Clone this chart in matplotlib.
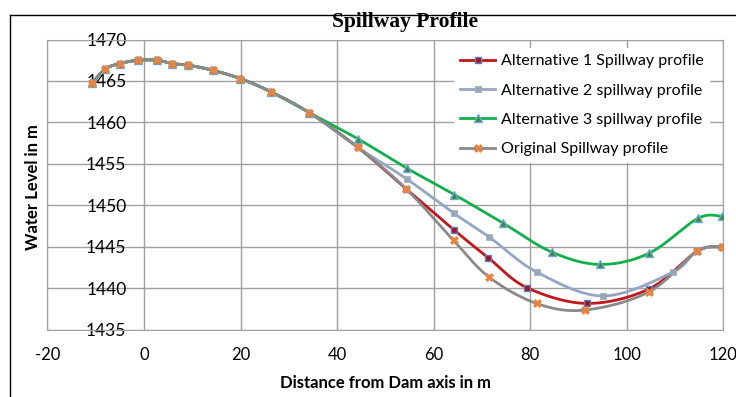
import numpy as np
import matplotlib
matplotlib.use("Agg")
import matplotlib.pyplot as plt
from matplotlib.lines import Line2D

# distance from dam axis (m) / water level (m)
alt1_x = [-10.8, -8.0, -5.0, -1.2, 2.8, 5.8, 9.2, 14.2, 19.9, 26.3, 34.2, 44.3,
          54.3, 64.1, 71.3, 79.3, 91.7, 104.6, 114.6, 119.7]
alt1_y = [1464.7, 1466.45, 1467.1, 1467.5, 1467.5, 1467.1, 1466.9, 1466.3, 1465.3, 1463.7, 1461.2, 1457.0,
          1452.0, 1447.1, 1443.7, 1440.1, 1438.2, 1439.95, 1444.5, 1445.0]

alt2_x = [-10.8, -8.0, -5.0, -1.2, 2.8, 5.8, 9.2, 14.2, 19.9, 26.3, 34.2, 44.3,
          54.4, 64.2, 71.5, 81.3, 95.1, 109.6, 114.6, 119.7]
alt2_y = [1464.7, 1466.45, 1467.1, 1467.5, 1467.5, 1467.1, 1466.9, 1466.3, 1465.3, 1463.7, 1461.2, 1457.0,
          1453.2, 1449.05, 1446.2, 1442.0, 1439.1, 1442.0, 1444.6, 1445.0]

alt3_x = [-10.8, -8.0, -5.0, -1.2, 2.8, 5.8, 9.2, 14.2, 19.9, 26.3, 34.2,
          44.4, 54.4, 64.3, 74.3, 84.4, 94.4, 104.6, 114.7, 119.6]
alt3_y = [1464.7, 1466.45, 1467.1, 1467.5, 1467.5, 1467.1, 1466.9, 1466.3, 1465.3, 1463.7, 1461.2,
          1458.0, 1454.5, 1451.3, 1447.9, 1444.4, 1442.9, 1444.25, 1448.45, 1448.7]

orig_x = [-10.8, -8.0, -5.0, -1.2, 2.8, 5.8, 9.2, 14.2, 19.9, 26.3, 34.2, 44.3,
          54.3, 64.1, 71.5, 81.3, 91.3, 104.6, 114.6, 119.7]
orig_y = [1464.7, 1466.45, 1467.1, 1467.5, 1467.5, 1467.1, 1466.9, 1466.3, 1465.3, 1463.7, 1461.2, 1457.0,
          1452.0, 1445.8, 1441.35, 1438.2, 1437.4, 1439.6, 1444.5, 1445.0]

labels = ["Alternative 1 Spillway profile", "Alternative 2 spillway profile",
          "Alternative 3 spillway profile", "Original Spillway profile"]


def smooth(x, y, n=24):
    # excel-like smoothed line (catmull-rom bezier)
    p = np.column_stack([x, y]).astype(float)
    p = np.vstack([p[0], p, p[-1]])
    out = []
    t = np.linspace(0, 1, n)[:, None]
    for i in range(1, len(p) - 2):
        p0, p1, p2, p3 = p[i - 1], p[i], p[i + 1], p[i + 2]
        c1 = p1 + (p2 - p0) / 6
        c2 = p2 - (p3 - p1) / 6
        seg = (1 - t)**3 * p1 + 3 * (1 - t)**2 * t * c1 + 3 * (1 - t) * t**2 * c2 + t**3 * p2
        out.append(seg if i == 1 else seg[1:])
    out = np.vstack(out)
    return out[:, 0], out[:, 1]


plt.rcParams['font.family'] = ['Lato', 'DejaVu Sans']
plt.rcParams['axes.unicode_minus'] = False
fig = plt.figure(figsize=(7.36, 3.97), dpi=100)
ax = fig.add_axes([0.0643, 0.1688, 0.9187, 0.7317])

series = [
    (alt1_x, alt1_y, dict(color='#C0171C'), dict(marker='s', ms=5, mfc='#B0101A', mec='#5B7FC0', mew=1)),
    (alt2_x, alt2_y, dict(color='#94A6C4'), dict(marker='s', ms=4, mfc='#9AA7BA', mec='#9AA7BA', mew=0.5)),
    (alt3_x, alt3_y, dict(color='#11B04A'), dict(marker='^', ms=6, mfc='#3F8A3A', mec='#6FA8DC', mew=1)),
    (orig_x, orig_y, dict(color='#8A8A8A'), dict(marker='X', ms=6, mfc='#E8843F', mec='#E8843F', mew=0.5)),
]
handles = []
for (x, y, lkw, mkw), lab in zip(series, labels):
    sx, sy = smooth(x, y)
    ax.plot(sx, sy, lw=2, **lkw, zorder=3)
    ax.plot(x, y, ls='none', **mkw, zorder=4)
    handles.append(Line2D([], [], lw=2, **lkw, **mkw))

ax.set_xlim(-20, 120)
ax.set_ylim(1435, 1470)
ax.set_xticks(np.arange(-20, 121, 20))
ax.set_yticks(np.arange(1435, 1471, 5))
ax.grid(True, color='#A0A0A0', lw=1)
ax.set_axisbelow(True)
for s in ax.spines.values():
    s.set_color('#A0A0A0')
ax.tick_params(axis='x', length=0, pad=12, labelsize=12)
ax.tick_params(axis='y', length=0, pad=-57, labelsize=12.5)

ax.set_xlabel("Distance from Dam axis in m", fontweight='bold', fontsize=12, va='center')
ax.xaxis.set_label_coords(0.5, -0.182)
ax.set_ylabel("Water Level in m", fontweight='bold', fontsize=12, va='center')
ax.yaxis.set_label_coords(-0.021, 0.492)

fig.text(405 / 736, 1 - 22 / 397, "Spillway Profile", family='Liberation Serif',
         fontweight='bold', fontsize=15.5, ha='center', va='center')

leg = ax.legend(handles, labels, loc='upper left', bbox_to_anchor=(0.601, 0.972),
                fontsize=11.5, frameon=True, facecolor='white', edgecolor='none', framealpha=1,
                handlelength=2.2, handletextpad=0.35, labelspacing=0.95, borderaxespad=0,
                fancybox=False)

# outer chart border
fig.add_artist(Line2D([10 / 736, 10 / 736], [0, 1 - 15 / 397], transform=fig.transFigure, color='black', lw=1))
fig.add_artist(Line2D([10 / 736, 1], [1 - 15 / 397, 1 - 15 / 397], transform=fig.transFigure, color='black', lw=1))

fig.savefig("out.png", dpi=100, facecolor='white')
